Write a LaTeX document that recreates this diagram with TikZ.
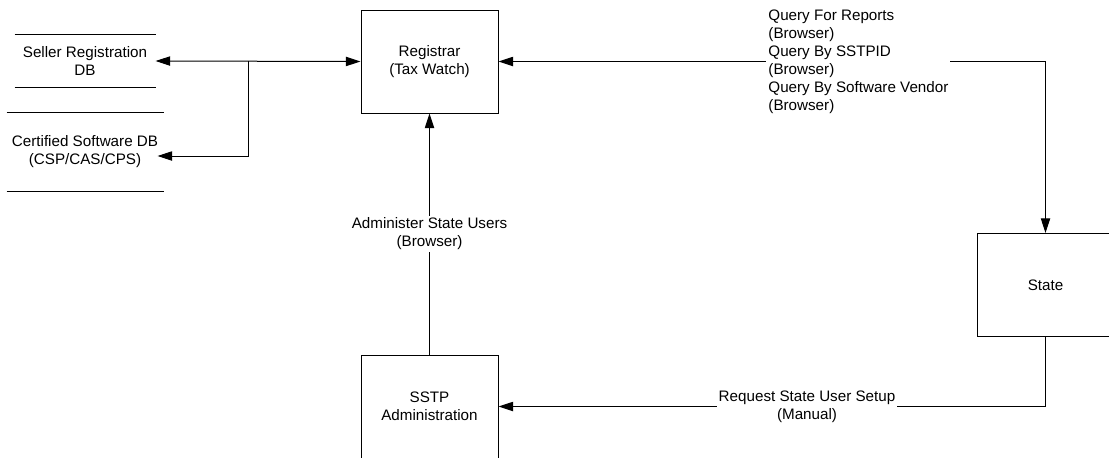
\documentclass[tikz,border=0pt]{standalone}
\usepackage{fontspec}
\setmainfont{Liberation Sans}
\usetikzlibrary{arrows.meta}

\begin{document}
\begin{tikzpicture}[->, >={Triangle[length=11pt,width=7pt]}, x=0.75pt, y=-0.75pt, line width=0.75pt,
    every node/.style={font=\fontsize{11.4}{13.5}\selectfont},
    box/.style={draw, minimum width=102.75pt, minimum height=77.25pt, align=center},
    store/.style={align=center, inner sep=0pt},
    lbl/.style={fill=white, inner sep=1.5pt, align=center}]

    \useasboundingbox (0,0) rectangle (1109,457);

    \node[box] (reg) at (429.5,61.5) {Registrar\\(Tax Watch)};
    \node[box] (state) at (1045.5,285) {State};
    \node[box] (sstp) at (429.5,406.5) {SSTP\\Administration};

    \node[store, minimum width=105pt, minimum height=39pt] (seller) at (85,61) {Seller Registration\\DB};
    \node[store, minimum width=117pt, minimum height=58.5pt] (cert) at (85,152) {Certified Software DB\\(CSP/CAS/CPS)};
    \coordinate (jn) at (248,61);

    % data stores
    \foreach \s in {seller,cert}
        \draw[-] (\s.north west) -- (\s.north east) (\s.south west) -- (\s.south east);

    \draw[<->] (seller.east) -- (reg.west);
    \draw (jn) |- ([shift={(-4.5pt,-3pt)}]cert.east);
    \draw[<->] (reg.east) -| (state.north) node[lbl, align=left, pos=0.329] {Query For Reports\\(Browser)\\Query By SSTPID\\(Browser)\\Query By Software Vendor\\(Browser)};
    \draw (sstp.north) -- (reg.south) node[lbl, midway] {Administer State Users\\(Browser)};
    \draw (state.south) |- (sstp.east) node[lbl, pos=0.718] {Request State User Setup\\(Manual)};

\end{tikzpicture}
\end{document}
